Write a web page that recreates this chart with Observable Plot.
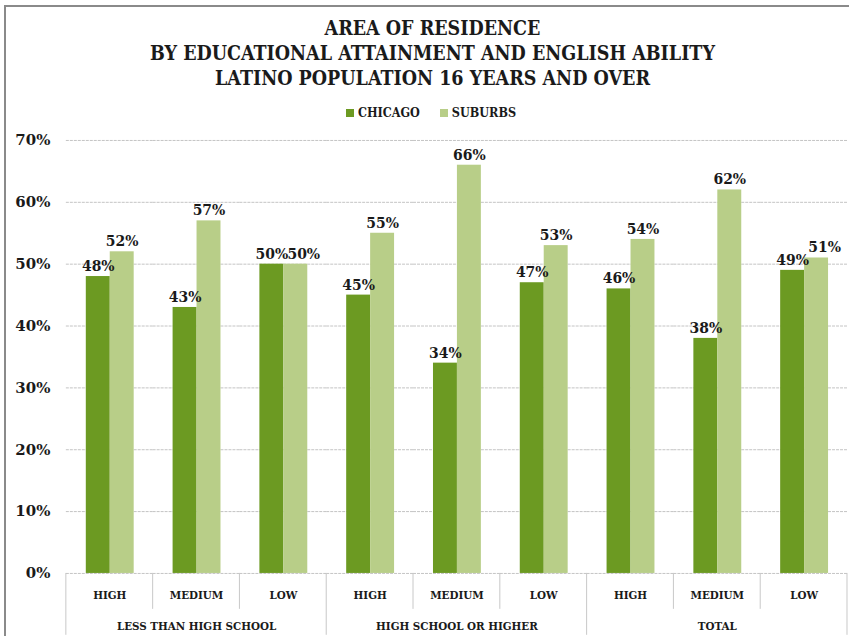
<!DOCTYPE html>
<html><head><meta charset="utf-8">
<script src="https://cdn.jsdelivr.net/npm/d3@7"></script>
<script src="https://cdn.jsdelivr.net/npm/@observablehq/plot@0.6"></script>
<style>
body{margin:0;background:#fff;}
#wrap{position:relative;width:849px;height:636px;overflow:hidden;background:#fff;}
#frame{position:absolute;left:4px;top:5px;right:-10px;bottom:-10px;border-left:2px solid #8a8a8a;border-top:2px solid #8a8a8a;pointer-events:none;z-index:5;}
#title{position:absolute;top:16px;left:8px;width:849px;text-align:center;font-family:"DejaVu Serif Condensed","DejaVu Serif",serif;font-weight:bold;font-size:19.5px;line-height:25px;color:#1a1a1a;}
#legend{position:absolute;top:105px;left:0;width:862px;text-align:center;font-family:"DejaVu Serif Condensed","DejaVu Serif",serif;font-weight:bold;font-size:12.5px;line-height:16px;color:#1a1a1a;}
#legend span.sw{display:inline-block;width:8px;height:8px;margin-right:4px;vertical-align:0px;}
#legend span.item{margin:0 10px;}
#chart{position:absolute;top:125px;left:0;}
</style>
</head><body>
<div id="wrap">
  <div id="frame"></div>
  <div id="title">AREA OF RESIDENCE<br>BY EDUCATIONAL ATTAINMENT AND ENGLISH ABILITY<br>LATINO POPULATION 16 YEARS AND OVER</div>
  <div id="legend"></div>
  <div id="chart"></div>
</div>
<script>
const groups = ["LESS THAN HIGH SCHOOL", "HIGH SCHOOL OR HIGHER", "TOTAL"];
const abilities = ["HIGH", "MEDIUM", "LOW"];
const series = ["CHICAGO", "SUBURBS"];
const chicago = [48, 43, 50, 45, 34, 47, 46, 38, 49];
const suburbs = [52, 57, 50, 55, 66, 53, 54, 62, 51];
const yTicks = [0, 10, 20, 30, 40, 50, 60, 70];
const colors = ["#6c9a22", "#b8ce88"];

const keys = groups.flatMap(g => abilities.map(a => g + "|" + a));
const data = keys.flatMap((k, i) => [
  {key: k, series: "CHICAGO", value: chicago[i], close: Math.abs(chicago[i] - suburbs[i]) <= 2},
  {key: k, series: "SUBURBS", value: suburbs[i], close: Math.abs(chicago[i] - suburbs[i]) <= 2}
]);
const groupLabels = groups.map(g => ({key: g + "|MEDIUM", label: g}));

// legend
const legend = document.getElementById("legend");
series.forEach((s, i) => {
  const item = document.createElement("span");
  item.className = "item";
  item.innerHTML = `<span class="sw" style="background:${colors[i]}"></span>${s}`;
  legend.appendChild(item);
});

const serif = "'DejaVu Serif', serif";
const cond = "'DejaVu Serif Condensed', 'DejaVu Serif', serif";
const labelStyle = {fx: "key", x: "series", y: "value", text: d => d.value + "%", dy: -10,
  fontSize: 14, fontWeight: "bold", fill: "#1a1a1a", fontFamily: serif};

const chart = Plot.plot({
  width: 851,
  height: 511,
  marginTop: 15,
  marginBottom: 62,
  marginLeft: 64,
  marginRight: 0,
  style: {fontFamily: serif, background: "transparent", overflow: "visible", color: "#1a1a1a"},
  fx: {domain: keys, padding: 0, label: null, axis: null},
  x: {domain: series, paddingInner: 0, paddingOuter: 0.75, axis: null},
  y: {domain: [0, 70], label: null, axis: null},
  color: {domain: series, range: colors},
  marks: [
    Plot.ruleY(yTicks, {y: d => d, stroke: "#c4c4c4", strokeWidth: 1, strokeDasharray: "3,1"}),
    Plot.barY(data, {fx: "key", x: "series", y: "value", fill: "series"}),
    // labels: when the two values are close, the suburbs label is nudged right to avoid overlap
    Plot.text(data, {...labelStyle, filter: d => !(d.close && d.series === "SUBURBS")}),
    Plot.text(data, {...labelStyle, filter: d => d.close && d.series === "SUBURBS", dx: 8}),
    Plot.axisY(yTicks, {tickSize: 0, tickPadding: 16, tickFormat: d => d + "%", fontSize: 15,
      fontWeight: "bold", label: null, fontFamily: serif}),
    Plot.axisFx({anchor: "bottom", tickSize: 0, tickPadding: 17, tickFormat: d => d.split("|")[1],
      fontSize: 11.5, fontWeight: "bold", label: null, fontFamily: cond}),
    Plot.text(groupLabels, {fx: "key", frameAnchor: "bottom", text: "label", dy: 57,
      fontSize: 11.5, fontWeight: "bold", fill: "#1a1a1a", fontFamily: cond})
  ]
});

// category separators in the axis area, from the library's scales
const fxs = chart.scale("fx");
const ys = chart.scale("y");
const y0 = ys.apply(0);
const sep = d3.select(chart).append("g").attr("stroke", "#c8c8c8").attr("stroke-width", 1);
keys.concat([null]).forEach((k, i) => {
  const xpos = k ? fxs.apply(k) : fxs.apply(keys[keys.length - 1]) + fxs.bandwidth;
  const major = i % abilities.length === 0;
  sep.append("line")
    .attr("x1", xpos).attr("x2", xpos)
    .attr("y1", y0).attr("y2", major ? 511 : y0 + 36);
});

document.getElementById("chart").appendChild(chart);
</script>
</body></html>
